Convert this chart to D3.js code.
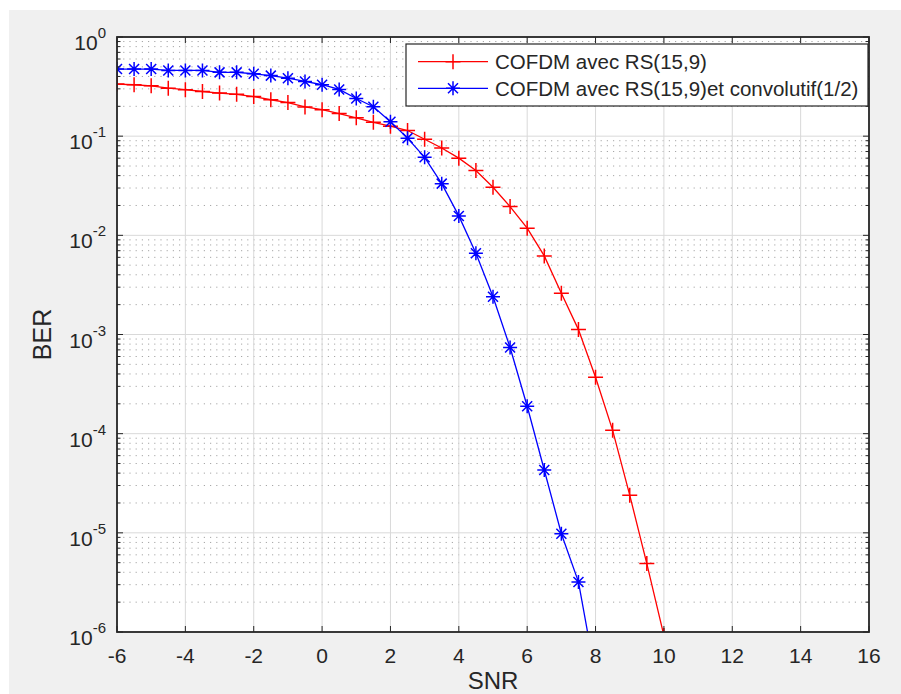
<!DOCTYPE html>
<html>
<head>
<meta charset="utf-8">
<script src="https://cdn.jsdelivr.net/npm/d3@7"></script>
<style>
  body { margin: 0; background: #fff; }
  svg { display: block; font-family: "Liberation Sans", Arial, Helvetica, sans-serif; }
</style>
</head>
<body>
<div id="chart"></div>
<script>
const MARGIN = { TOP: 37, BOTTOM: 62, LEFT: 117, RIGHT: 32 }
const WIDTH = 901 - MARGIN.LEFT - MARGIN.RIGHT
const HEIGHT = 694 - MARGIN.TOP - MARGIN.BOTTOM

// SNR (dB)
const snrRs = [-6, -5.5, -5, -4.5, -4, -3.5, -3, -2.5, -2, -1.5, -1, -0.5, 0, 0.5, 1, 1.5, 2,
  2.5, 3, 3.5, 4, 4.5, 5, 5.5, 6, 6.5, 7, 7.5, 8, 8.5, 9, 9.5, 10]
const berRs = [0.335, 0.330, 0.322, 0.305, 0.294, 0.282, 0.272, 0.264, 0.251, 0.233, 0.218, 0.197,
  0.185, 0.169, 0.153, 0.138, 0.126, 0.114, 0.093, 0.076, 0.060, 0.045, 0.0305, 0.0195, 0.0118,
  0.0062, 0.0026, 1.12e-3, 3.7e-4, 1.08e-4, 2.4e-5, 4.9e-6, 9.2e-7]

const snrConv = [-6, -5.5, -5, -4.5, -4, -3.5, -3, -2.5, -2, -1.5, -1, -0.5, 0, 0.5, 1, 1.5, 2,
  2.5, 3, 3.5, 4, 4.5, 5, 5.5, 6, 6.5, 7, 7.5, 8]
const berConv = [0.475, 0.475, 0.475, 0.46, 0.46, 0.46, 0.44, 0.44, 0.426, 0.408, 0.384, 0.356,
  0.330, 0.296, 0.240, 0.198, 0.140, 0.0955, 0.0612, 0.0332, 0.0157, 0.0066, 0.0024, 7.4e-4,
  1.89e-4, 4.3e-5, 9.8e-6, 3.2e-6, 3.6e-7]

const xTicks = [-6, -4, -2, 0, 2, 4, 6, 8, 10, 12, 14, 16]
const yExponents = [0, -1, -2, -3, -4, -5, -6]
const legendLabels = ["COFDM avec RS(15,9)", "COFDM avec RS(15,9)et convolutif(1/2)"]

const AXIS_COLOR = "#262626"

const svg = d3.select("#chart")
  .append("svg")
  .attr("width", 901)
  .attr("height", 694)

// figure background (window grey)
svg.append("rect")
  .attr("x", 9).attr("y", 10)
  .attr("width", 901 - 9).attr("height", 694 - 10)
  .attr("fill", "#f0f0f0")

const g = svg.append("g")
  .attr("transform", `translate(${MARGIN.LEFT}, ${MARGIN.TOP})`)

const x = d3.scaleLinear().domain([-6, 16]).range([0, WIDTH])
const y = d3.scaleLog().domain([1e-6, 1]).range([HEIGHT, 0])

g.append("rect")
  .attr("width", WIDTH).attr("height", HEIGHT)
  .attr("fill", "white")

// minor grid (dotted), log decades 2..9
const minorVals = []
yExponents.slice(1).forEach(e => {
  for (let m = 2; m <= 9; m++) minorVals.push(m * Math.pow(10, e))
})

g.append("g").selectAll("line")
  .data(minorVals)
  .enter().append("line")
  .attr("x1", 0).attr("x2", WIDTH)
  .attr("y1", d => y(d)).attr("y2", d => y(d))
  .attr("stroke", "#a6a6a6")
  .attr("stroke-width", 1)
  .attr("stroke-dasharray", "1.2,5")

// major grid
g.append("g").selectAll("line")
  .data(xTicks)
  .enter().append("line")
  .attr("x1", d => x(d)).attr("x2", d => x(d))
  .attr("y1", 0).attr("y2", HEIGHT)
  .attr("stroke", "#d9d9d9")

g.append("g").selectAll("line")
  .data(yExponents)
  .enter().append("line")
  .attr("x1", 0).attr("x2", WIDTH)
  .attr("y1", d => y(Math.pow(10, d))).attr("y2", d => y(Math.pow(10, d)))
  .attr("stroke", "#d9d9d9")

// curves
g.append("clipPath").attr("id", "plot-clip")
  .append("rect").attr("width", WIDTH).attr("height", HEIGHT)

const plot = g.append("g").attr("clip-path", "url(#plot-clip)")

const line = d3.line()
  .x(d => x(d[0]))
  .y(d => y(d[1]))

const plusPath = "M-7.5,0H7.5M0,-7.5V7.5"
const starPath = "M-7,0H7M0,-7V7M-5,-5L5,5M-5,5L5,-5"

const series = [
  { snr: snrRs, ber: berRs, color: "#ff0000", marker: plusPath },
  { snr: snrConv, ber: berConv, color: "#0000ff", marker: starPath }
]

series.forEach(s => {
  const pts = s.snr.map((v, i) => [v, s.ber[i]])
  plot.append("path")
    .datum(pts)
    .attr("d", line)
    .attr("fill", "none")
    .attr("stroke", s.color)
    .attr("stroke-width", 1.3)

  plot.selectAll(null)
    .data(pts)
    .enter().append("path")
    .attr("transform", d => `translate(${x(d[0])}, ${y(d[1])})`)
    .attr("d", s.marker)
    .attr("fill", "none")
    .attr("stroke", s.color)
    .attr("stroke-width", 1.5)
})

// box + ticks
g.append("rect")
  .attr("width", WIDTH).attr("height", HEIGHT)
  .attr("fill", "none")
  .attr("stroke", AXIS_COLOR)
  .attr("stroke-width", 1.8)

const ticks = g.append("g").attr("stroke", AXIS_COLOR).attr("stroke-width", 1)
xTicks.forEach(t => {
  ticks.append("line").attr("x1", x(t)).attr("x2", x(t)).attr("y1", HEIGHT).attr("y2", HEIGHT - 6)
  ticks.append("line").attr("x1", x(t)).attr("x2", x(t)).attr("y1", 0).attr("y2", 6)
})
yExponents.forEach(e => {
  const yy = y(Math.pow(10, e))
  ticks.append("line").attr("x1", 0).attr("x2", 6).attr("y1", yy).attr("y2", yy)
  ticks.append("line").attr("x1", WIDTH).attr("x2", WIDTH - 6).attr("y1", yy).attr("y2", yy)
})
minorVals.forEach(v => {
  const yy = y(v)
  ticks.append("line").attr("x1", 0).attr("x2", 3.5).attr("y1", yy).attr("y2", yy)
  ticks.append("line").attr("x1", WIDTH).attr("x2", WIDTH - 3.5).attr("y1", yy).attr("y2", yy)
})

// tick labels
g.append("g").selectAll("text")
  .data(xTicks)
  .enter().append("text")
  .attr("x", d => x(d))
  .attr("y", HEIGHT + 31)
  .attr("text-anchor", "middle")
  .attr("font-size", 21)
  .attr("fill", AXIS_COLOR)
  .text(d => d)

const yLabels = g.append("g").selectAll("text")
  .data(yExponents)
  .enter().append("text")
  .attr("x", -11)
  .attr("y", d => y(Math.pow(10, d)) + 13)
  .attr("text-anchor", "end")
  .attr("fill", AXIS_COLOR)

yLabels.append("tspan").attr("font-size", 21).text("10")
yLabels.append("tspan").attr("font-size", 15).attr("dy", -12).text(d => d)

// axis labels
g.append("text")
  .attr("x", WIDTH / 2)
  .attr("y", HEIGHT + 57)
  .attr("text-anchor", "middle")
  .attr("font-size", 24)
  .attr("fill", AXIS_COLOR)
  .text("SNR")

g.append("text")
  .attr("transform", `translate(${51 - MARGIN.LEFT}, ${HEIGHT / 2}) rotate(-90)`)
  .attr("text-anchor", "middle")
  .attr("font-size", 25)
  .attr("fill", AXIS_COLOR)
  .text("BER")

// legend
const legend = svg.append("g").attr("transform", "translate(406, 44)")
legend.append("rect")
  .attr("width", 462).attr("height", 62)
  .attr("fill", "white")
  .attr("stroke", AXIS_COLOR)
  .attr("stroke-width", 1.2)

series.forEach((s, i) => {
  const ly = 17.7 + i * 26.6
  legend.append("line")
    .attr("x1", 12).attr("x2", 82)
    .attr("y1", ly).attr("y2", ly)
    .attr("stroke", s.color).attr("stroke-width", 1.3)
  legend.append("path")
    .attr("transform", `translate(47, ${ly})`)
    .attr("d", s.marker)
    .attr("fill", "none")
    .attr("stroke", s.color)
    .attr("stroke-width", 1.5)
  legend.append("text")
    .attr("x", 89)
    .attr("y", ly + 7.2)
    .attr("font-size", 20.5)
    .attr("fill", AXIS_COLOR)
    .text(legendLabels[i])
})
</script>
</body>
</html>
